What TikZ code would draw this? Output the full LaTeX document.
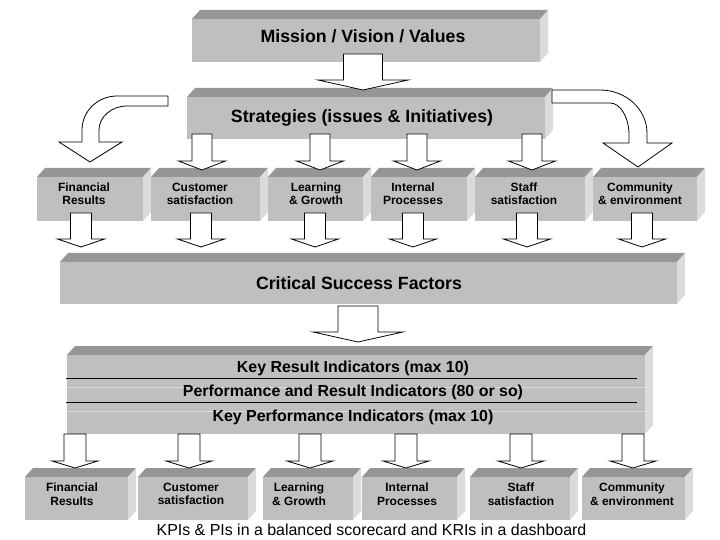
\documentclass[tikz,border=0pt]{standalone}
\usepackage{fontspec}
\setmainfont{Liberation Sans}
\usetikzlibrary{calc}

\definecolor{facefront}{gray}{0.75}
\definecolor{facetop}{gray}{0.59}
\definecolor{faceside}{gray}{0.86}

\tikzset{
	front/.style={fill=facefront, inner sep=0pt, outer sep=0pt},
	bigtxt/.style={font=\bfseries\fontsize{17.8}{20}\selectfont, anchor=base},
	kritxt/.style={font=\bfseries\fontsize{16}{18}\selectfont, anchor=base},
	boxtxt/.style={font=\bfseries\fontsize{12}{13.5}\selectfont, align=center},
	fat/.style={fill=white, draw=black, line width=0.8bp, line join=miter},
}

% front face as a node, top and side faces behind it
\newcommand{\slab}[5]{%
	\pgfmathsetmacro{\slabw}{#4-#2}\pgfmathsetmacro{\slabh}{#5-#3}%
	\node[front, minimum width=\slabw bp, minimum height=\slabh bp] (#1) at ({(#2+#4)/2},{(#3+#5)/2}) {};
	\fill[facetop] (#1.north west) -- ++(8,-9) -- ([shift={(8,-9)}]#1.north east) -- (#1.north east) -- cycle;
	\fill[faceside] (#1.north east) -- ++(8,-9) -- ([shift={(8,-9)}]#1.south east) -- (#1.south east) -- cycle;}

% block arrow pointing down: x, top, head, tip, half shaft, half head
\newcommand{\fatdown}[6]{%
	\filldraw[fat] ({#1-#5},#2) -- ({#1-#5},#3) -- ({#1-#6},#3) -- (#1,#4) -- ({#1+#6},#3) -- ({#1+#5},#3) -- ({#1+#5},#2) -- cycle;}

\begin{document}
\begin{tikzpicture}[x=1bp, y=-1bp]
	
	\path[fill=white] (0,0) rectangle (720,540);
	
	\slab{mission}{192}{19}{540}{62}
	\slab{strat}{187}{97}{545}{139}
	\foreach \nm/\xa/\xb in {fin1/37/143, cust1/151/260, lrn1/268/363, intl1/371/467, staff1/475/585, comm1/593/697}
		{\slab{\nm}{\xa}{177}{\xb}{221}}
	\slab{csf}{60}{262}{677}{304}
	\slab{kri}{67}{355}{645}{434}
	\foreach \nm/\xa/\xb in {fin2/25/128, cust2/138/248, lrn2/263/353, intl2/362/457, staff2/470/570, comm2/582/685}
		{\slab{\nm}{\xa}{477}{\xb}{520}}
	
	% rows of the indicator box
	\draw[gray!30, line width=0.8bp] (67,387) -- (645,387) (67,411) -- (645,411);
	\draw[line width=0.9bp] (66,378) -- (637,378) (66,402) -- (637,402);
	
	\node[bigtxt] (missiont) at (363,43) {Mission / Vision / Values};
	\node[bigtxt] (stratt) at (362,123) {Strategies (issues \& Initiatives)};
	\node[bigtxt] (csft) at (359,289) {Critical Success Factors};
	\node[kritxt] (krit) at (353,372) {Key Result Indicators (max 10)};
	\node[kritxt] (prit) at (353,396) {Performance and Result Indicators (80 or so)};
	\node[kritxt] (kpit) at (353,421) {Key Performance Indicators (max 10)};
	
	\foreach \nm/\xc/\txt in {fin/84/{Financial\\Results}, cust/200/{Customer\\satisfaction}, lrn/316/{Learning\\\& Growth}, intl/413/{Internal\\Processes}, staff/524/{Staff\\satisfaction}, comm/640/{Community\\\& environment}}
		{\node[boxtxt] (\nm t1) at (\xc,194) {\txt};}
	\foreach \nm/\xc/\txt in {fin/72/{Financial\\Results}, cust/191/{Customer\\satisfaction}, lrn/299/{Learning\\\& Growth}, intl/407/{Internal\\Processes}, staff/521/{Staff\\satisfaction}, comm/632/{Community\\\& environment}}
		{\node[boxtxt] (\nm t2) at (\xc,494) {\txt};}
	
	% arrows
	\fatdown{363}{54}{80}{90}{19.5}{45}
	\foreach \x in {202,320,417,532}
		{\fatdown{\x}{134}{161}{170}{10}{23.5}}
	\filldraw[fat] (168,96) -- (117,96) .. controls (97.7,96) and (82,111.2) .. (82,130) -- (82,142) -- (59,142) -- (90,162) -- (122,142) -- (99,142) -- (99,130) .. controls (99,116.8) and (111.5,106) .. (127,106) -- (168,106) -- cycle;
	\filldraw[fat] (552,90) -- (600,90) .. controls (626,90) and (647,109.3) .. (647,133) -- (647,143) -- (672,143) -- (638,167) -- (603,143) -- (629,143) -- (629,135) .. controls (629,117.3) and (620.5,103) .. (610,103) -- (552,103) -- cycle;
	\foreach \x in {81,201,315,413,527,642}
		{\fatdown{\x}{213}{239}{247}{10.5}{23.5}}
	\fatdown{358}{306}{332}{342}{20}{45}
	\foreach \x in {75,189,310,406,521,633}
		{\fatdown{\x}{434}{461}{468}{11}{23}}
	
	\node[font=\fontsize{16}{18}\selectfont, anchor=base] (caption) at (371.5,535) {KPIs \& PIs in a balanced scorecard and KRIs in a dashboard};
	
\end{tikzpicture}
\end{document}
